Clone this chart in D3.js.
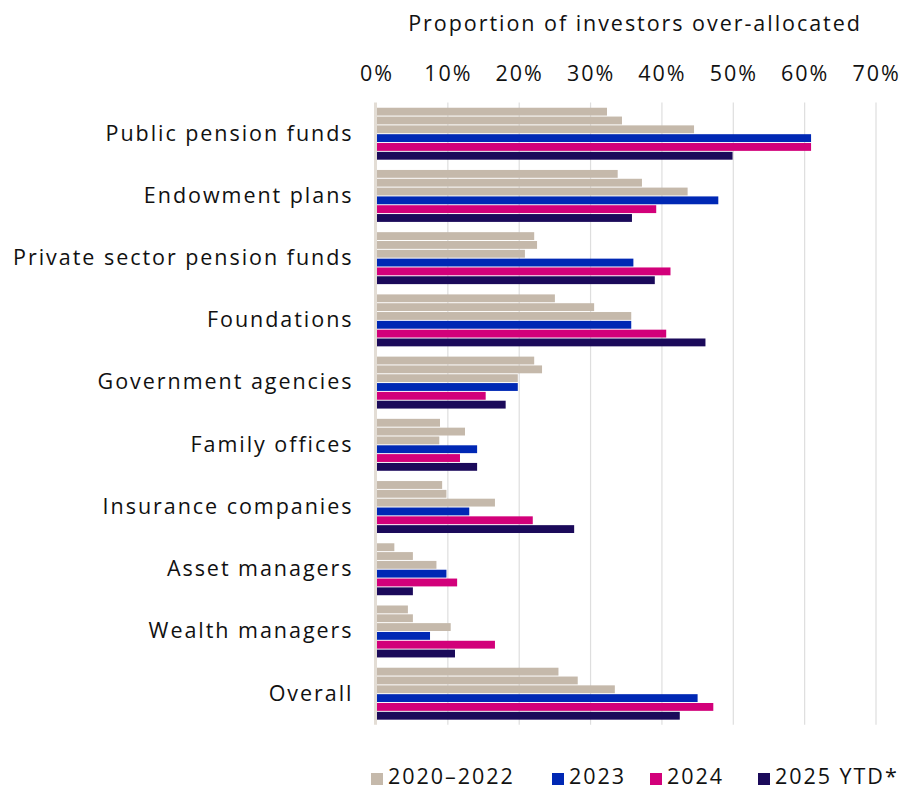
<!DOCTYPE html>
<html>
<head>
<meta charset="utf-8">
<script src="https://cdn.jsdelivr.net/npm/d3@7"></script>
<style>
  html, body { margin: 0; padding: 0; background: #fff; }
  svg { display: block; font-family: "Open Sans", "Noto Sans", sans-serif; }
</style>
</head>
<body>
<svg id="chart" width="903" height="789"></svg>
<script>
// Investor types, top to bottom
const categories = [
  "Public pension funds",
  "Endowment plans",
  "Private sector pension funds",
  "Foundations",
  "Government agencies",
  "Family offices",
  "Insurance companies",
  "Asset managers",
  "Wealth managers",
  "Overall"
];

// Share of investors over-allocated (%), one value per category
const y2020 = [32.3, 33.8, 22.1, 25.0, 22.1, 8.9, 9.2, 2.5, 4.4, 25.5];
const y2021 = [34.4, 37.2, 22.5, 30.5, 23.2, 12.4, 9.8, 5.1, 5.1, 28.2];
const y2022 = [44.5, 43.6, 20.8, 35.7, 19.8, 8.8, 16.6, 8.4, 10.4, 33.4];
const y2023 = [60.9, 47.9, 36.0, 35.7, 19.8, 14.1, 13.0, 9.8, 7.5, 45.0];
const y2024 = [60.9, 39.2, 41.2, 40.6, 15.3, 11.7, 21.9, 11.3, 16.6, 47.2];
const y2025 = [49.9, 35.8, 39.0, 46.1, 18.1, 14.1, 27.7, 5.1, 11.0, 42.5];

const tickValues = [0, 10, 20, 30, 40, 50, 60, 70];
const legendLabels = ["2020\u20132022", "2023", "2024", "2025 YTD*"];

const beige = "#c5b9ab", blue = "#0028b4", magenta = "#d2007a", navy = "#1b0a5a";
const legendColors = [beige, blue, magenta, navy];

const series = [
  { key: "y2020", values: y2020, color: beige },
  { key: "y2021", values: y2021, color: beige },
  { key: "y2022", values: y2022, color: beige },
  { key: "y2023", values: y2023, color: blue },
  { key: "y2024", values: y2024, color: magenta },
  { key: "y2025", values: y2025, color: navy }
];

const svg = d3.select("#chart");
const fontSize = 21.5;
const fontFamily = "'Open Sans', 'Noto Sans', sans-serif";

// Widen the letter spacing so the text runs wide like a grotesque face
const probe = svg.append("text").attr("font-size", fontSize)
  .attr("font-family", fontFamily).text("Public pension funds");
const probeW = probe.node().getComputedTextLength();
probe.remove();
const spacing = Math.max(0, (248 - probeW) / 20);

function styleText(sel) {
  sel.attr("font-size", fontSize).attr("fill", "#111")
    .attr("font-family", fontFamily)
    .style("letter-spacing", spacing + "px");
}

const x = d3.scaleLinear().domain([0, 70]).range([376.5, 876]);
const y = d3.scaleBand().domain(categories).range([102.6, 724.8])
  .paddingInner(0.165).paddingOuter(0.0825);
const ySub = d3.scaleBand().domain(series.map(s => s.key))
  .range([0, y.bandwidth()]).paddingInner(0.11);

// Title
svg.append("text")
  .attr("x", 635).attr("y", 31)
  .attr("text-anchor", "middle")
  .call(styleText)
  .text("Proportion of investors over-allocated");

// Vertical gridlines
svg.append("g")
  .selectAll("line")
  .data(tickValues.slice(1))
  .join("line")
  .attr("x1", d => x(d)).attr("x2", d => x(d))
  .attr("y1", y.range()[0]).attr("y2", y.range()[1])
  .attr("stroke", "#dedede").attr("stroke-width", 1.2);

// Top axis labels
const xAxis = d3.axisTop(x).tickValues(tickValues).tickFormat(d => d + "%").tickSize(0).tickPadding(0);
const gx = svg.append("g").attr("transform", "translate(0,81)").call(xAxis);
gx.select(".domain").remove();
gx.selectAll("text").call(styleText);

// Bars
const groups = svg.append("g")
  .selectAll("g")
  .data(categories)
  .join("g")
  .attr("transform", d => `translate(0,${y(d)})`);

groups.selectAll("rect")
  .data((c, i) => series.map(s => ({ key: s.key, value: s.values[i], color: s.color })))
  .join("rect")
  .attr("x", x(0))
  .attr("y", d => ySub(d.key))
  .attr("width", d => x(d.value) - x(0))
  .attr("height", ySub.bandwidth())
  .attr("fill", d => d.color);

// Baseline at 0%
svg.append("line")
  .attr("x1", x(0) - 1).attr("x2", x(0) - 1)
  .attr("y1", y.range()[0]).attr("y2", y.range()[1])
  .attr("stroke", "#e3ddd5").attr("stroke-width", 3);

// Category labels
const yAxis = d3.axisLeft(y).tickSize(0).tickPadding(23);
const gy = svg.append("g").attr("transform", `translate(${x(0)},0)`).call(yAxis);
gy.select(".domain").remove();
gy.selectAll("text").call(styleText);

// Legend
const legendX = [371, 552, 650, 758];
const legend = svg.append("g");
legendLabels.forEach((lab, i) => {
  legend.append("rect")
    .attr("x", legendX[i]).attr("y", 773)
    .attr("width", 12).attr("height", 12)
    .attr("fill", legendColors[i]);
  legend.append("text")
    .attr("x", legendX[i] + 17).attr("y", 784)
    .call(styleText)
    .text(lab);
});
</script>
</body>
</html>
